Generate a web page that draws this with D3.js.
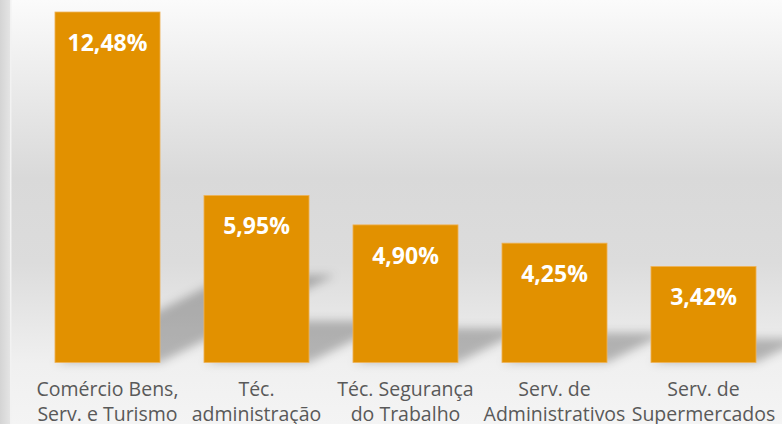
<!DOCTYPE html>
<html>
<head>
<meta charset="utf-8">
<script src="https://cdn.jsdelivr.net/npm/d3@7"></script>
<style>
  html, body { margin: 0; padding: 0; background: #fff; }
  svg { display: block; }
</style>
</head>
<body>
<svg id="chart" width="782" height="424"></svg>
<script>
// categories (two lines each) and values in %
let categories = [
    ["Comércio Bens,", "Serv. e Turismo"],
    ["Téc.", "administração"],
    ["Téc. Segurança", "do Trabalho"],
    ["Serv. de", "Administrativos"],
    ["Serv. de", "Supermercados"]
]
let values = [12.48, 5.95, 4.90, 4.25, 3.42]
let valueLabels = ["12,48%", "5,95%", "4,90%", "4,25%", "3,42%"]

let svg = d3.select("#chart")
let width = 782, height = 424
let baseline = 362.5

let defs = svg.append("defs")

// slide-like vertical gradient
let bg = defs.append("linearGradient").attr("id", "bg")
    .attr("x1", 0).attr("y1", 0).attr("x2", 0).attr("y2", 1)
bg.append("stop").attr("offset", "0").attr("stop-color", "#fbfbfb")
bg.append("stop").attr("offset", "0.42").attr("stop-color", "#d9d9d9")
bg.append("stop").attr("offset", "0.62").attr("stop-color", "#dcdcdc")
bg.append("stop").attr("offset", "0.86").attr("stop-color", "#f0f0f0")
bg.append("stop").attr("offset", "1").attr("stop-color", "#f4f4f4")

let edge = defs.append("linearGradient").attr("id", "edge")
    .attr("x1", 0).attr("y1", 0).attr("x2", 1).attr("y2", 0)
edge.append("stop").attr("offset", "0").attr("stop-color", "#d4d4d4")
edge.append("stop").attr("offset", "1").attr("stop-color", "#e4e4e4")

defs.append("filter").attr("id", "blur")
    .attr("x", "-30%").attr("y", "-30%").attr("width", "160%").attr("height", "160%")
    .append("feGaussianBlur").attr("stdDeviation", 5)

svg.append("rect").attr("width", width).attr("height", height).attr("fill", "url(#bg)")
svg.append("rect").attr("x", 0).attr("y", 0).attr("width", 10).attr("height", height).attr("fill", "url(#edge)")
svg.append("rect").attr("x", 10).attr("y", 0).attr("width", 1.5).attr("height", height).attr("fill", "#f2f2f2")

let x = d3.scaleBand()
    .domain(d3.range(values.length))
    .range([33, 778])
    .paddingInner(0.295)
    .paddingOuter(0.1475)

let y = d3.scaleLinear()
    .domain([0, 12.48])
    .range([baseline, 12])

// cast shadows behind the bars
svg.append("g").attr("filter", "url(#blur)")
    .selectAll("path")
    .data(values)
    .enter()
    .append("path")
    .attr("d", (d, i) => {
        let x0 = x(i), x1 = x(i) + x.bandwidth()
        let h = baseline - y(d)
        let dx = h * 0.5, dy = h * 0.25
        return `M${x0},${baseline}L${x1},${baseline}L${x1 + dx},${baseline - dy}L${x0 + dx},${baseline - dy}Z`
    })
    .attr("fill", "#000")
    .attr("fill-opacity", 0.25)

svg.append("g")
    .selectAll("rect")
    .data(values)
    .enter()
    .append("rect")
    .attr("x", (d, i) => x(i))
    .attr("y", d => y(d))
    .attr("width", x.bandwidth())
    .attr("height", d => baseline - y(d))
    .attr("fill", "#e29100")
    .attr("stroke", "#efb45a")
    .attr("stroke-width", 0.8)

svg.append("g")
    .selectAll("text")
    .data(values)
    .enter()
    .append("text")
    .attr("x", (d, i) => x(i) + x.bandwidth() / 2)
    .attr("y", d => y(d) + 39)
    .attr("text-anchor", "middle")
    .attr("font-family", "Open Sans, sans-serif")
    .attr("font-weight", "bold")
    .attr("font-size", 23)
    .attr("fill", "#ffffff")
    .text((d, i) => valueLabels[i])

let cat = svg.append("g")
    .selectAll("text")
    .data(categories)
    .enter()
    .append("text")
    .attr("text-anchor", "middle")
    .attr("font-family", "Open Sans, sans-serif")
    .attr("font-size", 19.5)
    .attr("fill", "#595959")

cat.selectAll("tspan")
    .data((d, i) => d.map(t => ({t: t, i: i})))
    .enter()
    .append("tspan")
    .attr("x", d => x(d.i) + x.bandwidth() / 2)
    .attr("y", (d, j) => 396 + j * 25)
    .text(d => d.t)
</script>
</body>
</html>
